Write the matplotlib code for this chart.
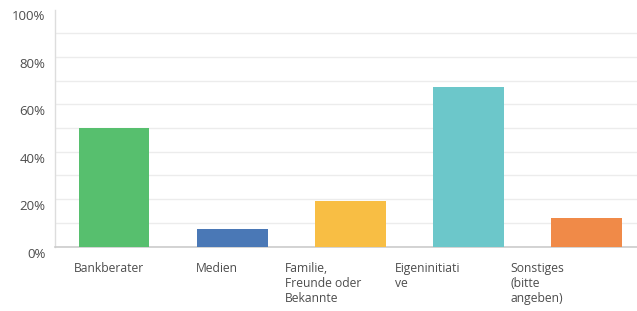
import matplotlib
matplotlib.use("Agg")
import matplotlib.pyplot as plt
import matplotlib.transforms as mtransforms

categories = ["Bankberater", "Medien", "Familie,\nFreunde oder\nBekannte", "Eigeninitiati\nve", "Sonstiges\n(bitte\nangeben)"]
values = [50.0, 7.4, 19.3, 67.2, 12.0]
colors = ["#57BF6E", "#4A78B6", "#F8BE44", "#6CC7CA", "#F08A48"]
yticks = [0, 20, 40, 60, 80, 100]
ytick_labels = ["0%", "20%", "40%", "60%", "80%", "100%"]

# layout: horizontal offset of each category label's left edge (in bar-slot units)
label_offsets = [-0.343, -0.31, -0.555, -0.62, -0.64]

plt.rcParams['font.family'] = ['Open Sans', 'DejaVu Sans']

fig = plt.figure(figsize=(6.37, 3.11), dpi=100)
ax = fig.add_axes([55/637, 1 - 246.5/311, 1 - 55/637, (246.5 - 9.5)/311])

x = list(range(len(categories)))
ax.bar(x, values, width=0.6, color=colors, zorder=3)

ax.set_ylim(0, 100)
ax.set_xlim(-0.5, 4.428)
ax.set_yticks(yticks)
ax.set_yticks(range(10, 100, 20), minor=True)
ax.yaxis.grid(True, which="both", color="#ececec", linewidth=1.0, zorder=0)
ax.set_axisbelow(True)
ax.get_ygridlines()[-1].set_visible(False)
ax.set_yticklabels(ytick_labels, fontsize=9.5, color="#4d4d4d")
ax.tick_params(axis="y", which="both", length=0, pad=7)
offset = mtransforms.ScaledTranslation(0, -6/100, fig.dpi_scale_trans)
for lab in ax.get_yticklabels():
    lab.set_transform(lab.get_transform() + offset)

ax.set_xticks([])
for i, (cat, off) in enumerate(zip(categories, label_offsets)):
    ax.text(i + off, -6.5, cat, ha="left", va="top", fontsize=8.7, color="#4d4d4d",
            linespacing=1.2, transform=ax.transData, clip_on=False)

for s in ["top", "right"]:
    ax.spines[s].set_visible(False)
ax.spines["left"].set_color("#dddddd")
ax.spines["bottom"].set_color("#cccccc")
ax.spines["left"].set_linewidth(1.0)
ax.spines["bottom"].set_linewidth(1.2)

fig.savefig("out.png", dpi=100)
